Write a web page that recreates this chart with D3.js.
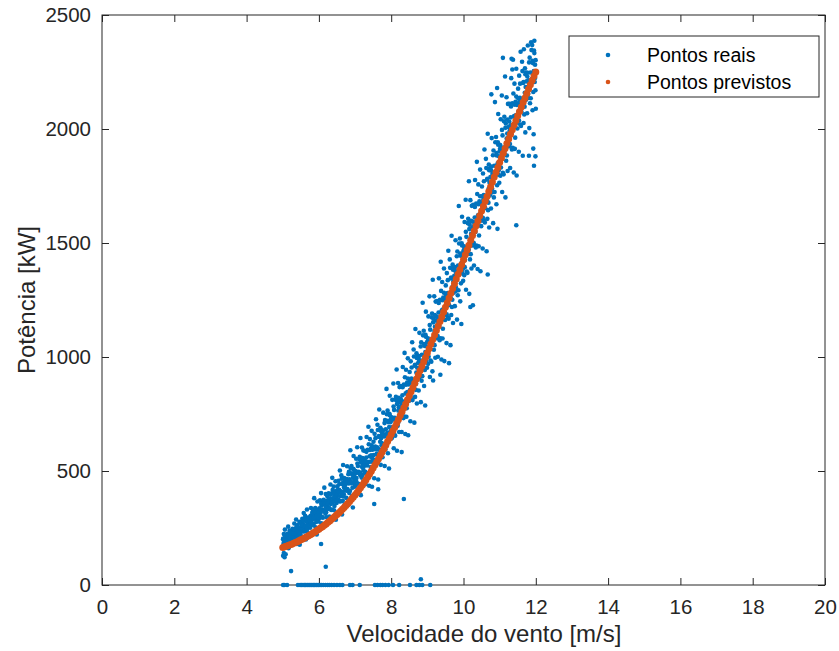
<!DOCTYPE html>
<html>
<head>
<meta charset="utf-8">
<script src="https://cdn.jsdelivr.net/npm/d3@7"></script>
<style>
  body { margin: 0; background: #fff; }
  svg { display: block; font-family: "Liberation Sans", Arial, sans-serif; }
</style>
</head>
<body>
<div id="chart"></div>
<script>
// measured points [wind speed m/s, power kW]
const realPoints = [
  [5.01,201],[5.02,180],[5.03,224],[5.04,192],[5.06,243],[5.07,166],[5.08,211],[5.10,201],[5.11,180],[5.12,221],
  [5.14,195],[5.15,256],[5.16,161],[5.17,219],[5.19,239],[5.20,193],[5.21,211],[5.22,181],[5.23,234],[5.24,206],
  [5.01,128],[5.03,140],[5.05,122],[5.08,135],
  [5.26,207],[5.27,247],[5.28,221],[5.29,186],[5.31,233],[5.32,270],[5.33,218],[5.35,246],[5.36,204],[5.37,287],
  [5.39,180],[5.40,233],[5.41,263],[5.42,203],[5.44,246],[5.45,231],[5.46,277],[5.47,177],[5.48,243],[5.49,221],
  [5.51,276],[5.52,251],[5.53,207],[5.54,290],[5.56,266],[5.57,236],[5.58,316],[5.60,250],[5.61,262],[5.62,304],
  [5.64,200],[5.65,280],[5.66,236],[5.67,331],[5.69,254],[5.70,296],[5.71,226],[5.72,276],[5.73,292],[5.74,266],
  [5.76,251],[5.77,303],[5.78,338],[5.79,275],[5.81,290],[5.82,231],[5.83,322],[5.85,303],[5.86,270],[5.87,381],
  [5.89,294],[5.90,337],[5.91,253],[5.92,314],[5.94,222],[5.95,330],[5.96,366],[5.97,290],[5.98,312],[5.99,279],
  [6.01,331],[6.02,294],[6.03,371],[6.04,315],[6.06,403],[6.07,271],[6.08,349],[6.10,331],[6.11,295],[6.12,367],
  [6.14,323],[6.15,427],[6.16,262],[6.17,363],[6.19,399],[6.20,319],[6.21,349],[6.22,297],[6.23,390],[6.24,343],
  [6.26,334],[6.27,402],[6.28,359],[6.29,300],[6.31,380],[6.32,441],[6.33,355],[6.35,401],[6.36,331],[6.37,470],
  [6.39,291],[6.40,381],[6.41,432],[6.42,328],[6.44,403],[6.45,376],[6.46,455],[6.47,286],[6.48,397],[6.49,360],
  [6.51,433],[6.52,391],[6.53,318],[6.54,457],[6.56,417],[6.57,368],[6.58,502],[6.60,390],[6.61,411],[6.62,481],
  [6.64,309],[6.65,442],[6.66,369],[6.67,526],[6.69,398],[6.70,469],[6.71,352],[6.72,435],[6.73,461],[6.74,420],
  [6.76,382],[6.77,465],[6.78,521],[6.79,421],[6.81,445],[6.82,352],[6.83,496],[6.85,464],[6.86,413],[6.87,591],
  [6.89,452],[6.90,522],[6.91,389],[6.92,485],[6.94,340],[6.95,510],[6.96,566],[6.97,447],[6.98,483],[6.99,431],
  [7.01,492],[7.02,436],[7.03,554],[7.04,469],[7.06,604],[7.07,403],[7.08,522],[7.10,496],[7.11,441],[7.12,552],
  [7.14,483],[7.15,645],[7.16,394],[7.17,548],[7.19,603],[7.20,482],[7.21,527],[7.22,450],[7.23,590],[7.24,520],
  [7.26,490],[7.27,589],[7.28,527],[7.29,442],[7.31,559],[7.32,649],[7.33,524],[7.35,593],[7.36,491],[7.37,694],
  [7.39,435],[7.40,565],[7.41,640],[7.42,490],[7.44,599],[7.45,562],[7.46,676],[7.47,431],[7.48,593],[7.49,540],
  [7.51,628],[7.52,570],[7.53,468],[7.54,663],[7.56,607],[7.57,540],[7.58,727],[7.60,575],[7.61,604],[7.62,703],
  [7.64,463],[7.65,650],[7.66,548],[7.67,770],[7.69,592],[7.70,690],[7.71,527],[7.72,644],[7.73,682],[7.74,623],
  [7.53,355],[7.64,420],
  [7.76,560],[7.77,677],[7.78,756],[7.79,617],[7.81,651],[7.82,522],[7.83,724],[7.85,683],[7.86,610],[7.87,860],
  [7.89,667],[7.90,765],[7.91,578],[7.92,714],[7.94,511],[7.95,751],[7.96,830],[7.97,663],[7.98,714],[7.99,641],
  [8.01,724],[8.02,645],[8.03,812],[8.04,693],[8.06,884],[8.07,600],[8.08,768],[8.10,733],[8.11,655],[8.12,812],
  [8.14,716],[8.15,945],[8.16,589],[8.17,807],[8.19,886],[8.20,715],[8.21,780],[8.22,671],[8.23,868],[8.24,770],
  [8.26,738],[8.27,873],[8.28,788],[8.29,671],[8.31,832],[8.32,956],[8.33,784],[8.35,879],[8.36,739],[8.37,1018],
  [8.39,662],[8.40,841],[8.41,944],[8.42,738],[8.44,888],[8.45,837],[8.46,994],[8.47,657],[8.48,880],[8.49,807],
  [8.29,583],[8.35,377],
  [8.51,934],[8.52,855],[8.53,718],[8.54,981],[8.56,906],[8.57,815],[8.58,1065],[8.60,862],[8.61,900],[8.62,1033],
  [8.64,712],[8.65,962],[8.66,825],[8.67,1123],[8.69,883],[8.70,1016],[8.71,796],[8.72,953],[8.73,1004],[8.74,924],
  [8.76,853],[8.77,1004],[8.78,1106],[8.79,925],[8.81,970],[8.82,802],[8.83,1064],[8.85,1010],[8.86,916],[8.87,1238],
  [8.89,989],[8.90,1115],[8.91,873],[8.92,1049],[8.94,787],[8.95,1097],[8.96,1199],[8.97,982],[8.98,1047],[8.99,953],
  [9.01,1068],[9.02,970],[9.03,1178],[9.04,1028],[9.06,1266],[9.07,912],[9.08,1120],[9.10,1077],[9.11,979],[9.12,1174],
  [9.14,1055],[9.15,1339],[9.16,897],[9.17,1169],[9.19,1266],[9.20,1052],[9.21,1133],[9.22,997],[9.23,1243],[9.24,1119],
  [9.14,937],[9.36,922],
  [9.26,1082],[9.27,1245],[9.28,1143],[9.29,1001],[9.31,1195],[9.32,1345],[9.33,1137],[9.35,1251],[9.36,1082],[9.37,1418],
  [9.39,989],[9.40,1205],[9.41,1329],[9.42,1081],[9.44,1261],[9.45,1199],[9.46,1388],[9.47,982],[9.48,1251],[9.49,1162],
  [9.51,1314],[9.52,1221],[9.53,1061],[9.54,1368],[9.56,1280],[9.57,1174],[9.58,1466],[9.60,1228],[9.61,1273],[9.62,1428],
  [9.64,1052],[9.65,1345],[9.66,1184],[9.67,1532],[9.69,1251],[9.70,1406],[9.71,1149],[9.72,1332],[9.73,1392],[9.74,1300],
  [9.60,973],
  [9.76,1223],[9.77,1395],[9.78,1512],[9.79,1306],[9.81,1356],[9.82,1164],[9.83,1463],[9.85,1401],[9.86,1293],[9.87,1662],
  [9.89,1376],[9.90,1520],[9.91,1244],[9.92,1444],[9.94,1145],[9.95,1499],[9.96,1615],[9.97,1368],[9.98,1442],[9.99,1334],
  [10.01,1469],[10.02,1359],[10.03,1592],[10.04,1425],[10.06,1690],[10.07,1295],[10.08,1527],[10.10,1479],[10.11,1369],[10.12,1587],
  [10.14,1453],[10.15,1771],[10.16,1277],[10.17,1580],[10.19,1688],[10.20,1451],[10.21,1540],[10.22,1388],[10.23,1663],[10.24,1525],
  [10.19,1219],[10.26,1227],
  [10.26,1489],[10.27,1668],[10.28,1556],[10.29,1401],[10.31,1612],[10.32,1776],[10.33,1548],[10.35,1673],[10.36,1489],[10.37,1856],
  [10.39,1386],[10.40,1622],[10.41,1757],[10.42,1486],[10.44,1683],[10.45,1615],[10.46,1822],[10.47,1376],[10.48,1671],[10.49,1574],
  [10.51,1748],[10.52,1649],[10.53,1476],[10.54,1805],[10.56,1710],[10.57,1597],[10.58,1910],[10.60,1654],[10.61,1702],[10.62,1869],
  [10.64,1464],[10.65,1778],[10.66,1606],[10.67,1979],[10.69,1677],[10.70,1844],[10.71,1568],[10.72,1764],[10.73,1828],[10.74,1728],
  [10.67,1362],
  [10.76,1651],[10.77,1835],[10.78,1960],[10.79,1739],[10.81,1792],[10.82,1587],[10.83,1906],[10.85,1839],[10.86,1724],[10.87,2118],
  [10.89,1811],[10.90,1965],[10.91,1670],[10.92,1884],[10.94,1562],[10.95,1942],[10.96,2066],[10.97,1800],[10.98,1880],[10.99,1764],
  [10.77,2152],[10.93,2180],
  [11.01,1913],[11.02,1795],[11.03,2043],[11.04,1864],[11.06,2147],[11.07,1724],[11.08,1972],[11.10,1919],[11.11,1801],[11.12,2034],
  [11.14,1890],[11.15,2230],[11.16,1700],[11.17,2024],[11.19,2139],[11.20,1884],[11.21,1980],[11.22,1816],[11.23,2110],[11.24,1962],
  [11.09,2312],[11.33,2308],[11.35,2261],
  [11.26,1924],[11.27,2111],[11.28,1993],[11.29,1829],[11.31,2051],[11.32,2223],[11.33,1983],[11.35,2113],[11.36,1918],[11.37,2304],
  [11.39,1809],[11.40,2057],[11.41,2199],[11.42,1913],[11.44,2119],[11.45,2047],[11.46,2264],[11.47,1796],[11.48,2105],[11.49,2002],
  [11.46,1578],
  [11.51,2177],[11.52,2076],[11.53,1900],[11.54,2234],[11.56,2137],[11.57,2020],[11.58,2339],[11.60,2077],[11.61,2126],[11.62,2295],
  [11.64,1883],[11.65,2202],[11.66,2026],[11.67,2350],[11.69,2098],[11.70,2266],[11.71,1985],[11.72,2184],[11.73,2248],[11.74,2147],
  [11.76,2069],[11.77,2247],[11.78,2366],[11.79,2153],[11.81,2204],[11.82,2004],[11.83,2313],[11.85,2248],[11.86,2135],[11.87,2380],
  [11.89,2219],[11.90,2368],[11.91,2082],[11.92,2289],[11.94,1977],[11.95,2344],[11.96,2387],[11.97,2206],[11.98,2282],[11.99,2170],
  [11.81,1883],[11.95,1839],[11.99,1880],[12.00,2089],[11.93,1914],
  [5.23,61],[6.19,80],[6.06,180],[8.82,25]
];

// the denser core of the measured cloud, close to the fitted curve
const moreRealPoints = [
  [5.015,204],[5.035,186],[5.050,201],[5.065,215],[5.090,181],[5.105,198],[5.130,225],[5.145,198],[5.160,216],[5.180,189],[5.195,207],[5.210,222],[5.230,201],[5.245,215],
  [5.265,230],[5.285,209],[5.300,226],[5.315,243],[5.340,203],[5.355,224],[5.380,255],[5.395,223],[5.410,244],[5.430,213],[5.445,234],[5.460,251],[5.480,226],[5.495,244],
  [5.515,265],[5.535,241],[5.550,261],[5.565,281],[5.590,235],[5.605,258],[5.630,294],[5.645,258],[5.660,281],[5.680,246],[5.695,269],[5.710,290],[5.730,261],[5.745,281],
  [5.765,299],[5.785,271],[5.800,293],[5.815,316],[5.840,263],[5.855,291],[5.880,332],[5.895,291],[5.910,318],[5.930,277],[5.945,304],[5.960,327],[5.980,295],[5.995,318],
  [6.015,336],[6.035,305],[6.050,331],[6.065,356],[6.090,298],[6.105,328],[6.130,374],[6.145,328],[6.160,358],[6.180,313],[6.195,343],[6.210,369],[6.230,334],[6.245,359],
  [6.265,374],[6.285,338],[6.300,367],[6.315,397],[6.340,329],[6.355,364],[6.380,417],[6.395,364],[6.410,399],[6.430,347],[6.445,382],[6.460,411],[6.480,370],[6.495,399],
  [6.515,416],[6.535,375],[6.550,409],[6.565,443],[6.590,366],[6.605,406],[6.630,466],[6.645,407],[6.660,447],[6.680,388],[6.695,428],[6.710,461],[6.730,415],[6.745,449],
  [6.765,457],[6.785,413],[6.800,450],[6.815,486],[6.840,404],[6.855,446],[6.880,512],[6.895,447],[6.910,490],[6.930,427],[6.945,470],[6.960,507],[6.980,456],[6.995,493],
  [7.015,500],[7.035,454],[7.050,493],[7.065,533],[7.090,444],[7.105,491],[7.130,562],[7.145,492],[7.160,539],[7.180,471],[7.195,518],[7.210,557],[7.230,504],[7.245,543],
  [7.265,548],[7.285,497],[7.300,541],[7.315,584],[7.340,487],[7.355,538],[7.380,617],[7.395,540],[7.410,592],[7.430,517],[7.445,569],[7.460,613],[7.480,554],[7.495,597],
  [7.515,603],[7.535,548],[7.550,596],[7.565,644],[7.590,537],[7.605,594],[7.630,680],[7.645,596],[7.660,653],[7.680,571],[7.695,628],[7.710,676],[7.730,612],[7.745,660],
  [7.765,666],[7.785,606],[7.800,658],[7.815,710],[7.840,594],[7.855,656],[7.880,749],[7.895,659],[7.910,720],[7.930,631],[7.945,693],[7.960,745],[7.980,675],[7.995,728],
  [8.015,736],[8.035,671],[8.050,727],[8.065,783],[8.090,658],[8.105,725],[8.130,825],[8.145,728],[8.160,794],[8.180,698],[8.195,765],[8.210,821],[8.230,745],[8.245,802],
  [8.265,816],[8.285,746],[8.300,806],[8.315,867],[8.340,732],[8.355,804],[8.380,911],[8.395,806],[8.410,878],[8.430,775],[8.445,846],[8.460,906],[8.480,825],[8.495,885],
  [8.515,901],[8.535,826],[8.550,890],[8.565,954],[8.590,811],[8.605,887],[8.630,1002],[8.645,890],[8.660,966],[8.680,856],[8.695,932],[8.710,996],[8.730,910],[8.745,974],
  [8.765,990],[8.785,911],[8.800,978],[8.815,1046],[8.840,896],[8.855,975],[8.880,1095],[8.895,978],[8.910,1057],[8.930,943],[8.945,1022],[8.960,1089],[8.980,998],[8.995,1066],
  [9.015,1082],[9.035,1001],[9.050,1071],[9.065,1140],[9.090,984],[9.105,1066],[9.130,1191],[9.145,1069],[9.160,1152],[9.180,1032],[9.195,1114],[9.210,1184],[9.230,1090],[9.245,1160],
  [9.265,1177],[9.285,1092],[9.300,1164],[9.315,1237],[9.340,1074],[9.355,1160],[9.380,1290],[9.395,1163],[9.410,1249],[9.430,1124],[9.445,1210],[9.460,1282],[9.480,1184],[9.495,1256],
  [9.515,1274],[9.535,1187],[9.550,1262],[9.565,1337],[9.590,1168],[9.605,1257],[9.630,1391],[9.645,1260],[9.660,1349],[9.680,1219],[9.695,1308],[9.710,1383],[9.730,1282],[9.745,1356],
  [9.765,1379],[9.785,1290],[9.800,1366],[9.815,1442],[9.840,1271],[9.855,1361],[9.880,1498],[9.895,1364],[9.910,1454],[9.930,1323],[9.945,1413],[9.960,1489],[9.980,1386],[9.995,1462],
  [10.015,1485],[10.035,1394],[10.050,1471],[10.065,1549],[10.090,1375],[10.105,1467],[10.130,1606],[10.145,1470],[10.160,1561],[10.180,1428],[10.195,1519],[10.210,1597],[10.230,1491],[10.245,1569],
  [10.265,1593],[10.285,1500],[10.300,1579],[10.315,1658],[10.340,1480],[10.355,1573],[10.380,1715],[10.395,1576],[10.410,1670],[10.430,1533],[10.445,1626],[10.460,1705],[10.480,1598],[10.495,1677],
  [10.515,1705],[10.535,1611],[10.550,1691],[10.565,1771],[10.590,1590],[10.605,1685],[10.630,1829],[10.645,1688],[10.660,1782],[10.680,1644],[10.695,1738],[10.710,1819],[10.730,1709],[10.745,1789],
  [10.765,1818],[10.785,1722],[10.800,1803],[10.815,1885],[10.840,1700],[10.855,1797],[10.880,1942],[10.895,1798],[10.910,1895],[10.930,1753],[10.945,1850],[10.960,1931],[10.980,1820],[10.995,1901],
  [11.015,1930],[11.035,1831],[11.050,1914],[11.065,1996],[11.090,1808],[11.105,1906],[11.130,2054],[11.145,1907],[11.160,2005],[11.180,1861],[11.195,1958],[11.210,2041],[11.230,1927],[11.245,2009],
  [11.265,2033],[11.285,1934],[11.300,2016],[11.315,2099],[11.340,1910],[11.355,2008],[11.380,2156],[11.395,2009],[11.410,2107],[11.430,1962],[11.445,2060],[11.460,2142],[11.480,2028],[11.495,2111],
  [11.515,2134],[11.535,2037],[11.550,2118],[11.565,2199],[11.590,2013],[11.605,2109],[11.630,2254],[11.645,2110],[11.660,2206],[11.680,2064],[11.695,2159],[11.710,2240],[11.730,2128],[11.745,2209],
  [11.765,2230],[11.785,2136],[11.800,2214],[11.815,2292],[11.840,2113],[11.855,2206],[11.880,2346],[11.895,2207],[11.910,2299],[11.930,2162],[11.945,2254],[11.960,2333],[11.980,2224],[11.995,2302]
];

// measured points where the turbine gave zero power
const zeroPowerSpeeds = [
  5.01, 5.04, 5.12, 5.42, 5.48, 5.52, 5.56, 5.60, 5.63, 5.67, 5.70, 5.74, 5.78, 5.81, 5.85, 5.88,
  5.92, 5.95, 5.99, 6.03, 6.07, 6.12, 6.18, 6.24, 6.29, 6.35, 6.42, 6.50, 6.58, 6.65, 6.86, 6.93,
  7.13, 7.55, 7.62, 7.70, 7.76, 7.84, 7.93, 8.05, 8.22, 8.52, 8.70, 8.78, 8.86, 9.08
];

// model prediction [wind speed m/s, power kW]
const predPoints = [
  [5.00,165],[5.05,168],[5.10,170],[5.15,173],[5.20,176],[5.25,179],[5.30,183],[5.35,186],[5.40,190],[5.45,194],
  [5.50,198],[5.55,202],[5.60,206],[5.65,210],[5.70,215],[5.75,219],[5.80,224],[5.85,229],[5.90,234],[5.95,240],
  [6.00,245],[6.05,251],[6.10,256],[6.15,262],[6.20,268],[6.25,275],[6.30,281],[6.35,288],[6.40,295],[6.45,302],
  [6.50,309],[6.55,316],[6.60,324],[6.65,332],[6.70,340],[6.75,349],[6.80,357],[6.85,366],[6.90,376],[6.95,385],
  [7.00,395],[7.05,405],[7.10,416],[7.15,427],[7.20,438],[7.25,450],[7.30,461],[7.35,474],[7.40,486],[7.45,499],
  [7.50,513],[7.55,526],[7.60,540],[7.65,554],[7.70,569],[7.75,583],[7.80,598],[7.85,613],[7.90,629],[7.95,644],
  [8.00,660],[8.05,676],[8.10,692],[8.15,709],[8.20,726],[8.25,743],[8.30,760],[8.35,777],[8.40,794],[8.45,812],
  [8.50,830],[8.55,848],[8.60,866],[8.65,885],[8.70,903],[8.75,922],[8.80,941],[8.85,960],[8.90,979],[8.95,998],
  [9.00,1018],[9.05,1037],[9.10,1057],[9.15,1077],[9.20,1096],[9.25,1116],[9.30,1136],[9.35,1156],[9.40,1177],[9.45,1197],
  [9.50,1218],[9.55,1238],[9.60,1259],[9.65,1280],[9.70,1300],[9.75,1321],[9.80,1342],[9.85,1363],[9.90,1384],[9.95,1405],
  [10.00,1426],[10.05,1448],[10.10,1469],[10.15,1490],[10.20,1512],[10.25,1533],[10.30,1554],[10.35,1576],[10.40,1597],[10.45,1619],
  [10.50,1640],[10.55,1661],[10.60,1683],[10.65,1704],[10.70,1726],[10.75,1747],[10.80,1768],[10.85,1789],[10.90,1810],[10.95,1831],
  [11.00,1853],[11.05,1873],[11.10,1894],[11.15,1915],[11.20,1936],[11.25,1956],[11.30,1977],[11.35,1997],[11.40,2017],[11.45,2037],
  [11.50,2058],[11.55,2077],[11.60,2097],[11.65,2117],[11.70,2136],[11.75,2156],[11.80,2175],[11.85,2194],[11.90,2213],[11.95,2232],
  [12.00,2250]
];

const xTicks = [0, 2, 4, 6, 8, 10, 12, 14, 16, 18, 20];
const yTicks = [0, 500, 1000, 1500, 2000, 2500];
const legendLabels = ["Pontos reais", "Pontos previstos"];

const width = 839, height = 651;
const margin = { top: 15, right: 14, bottom: 66, left: 102 };
const blue = "#0072BD", orange = "#D95319", axisColor = "#262626";

const svg = d3.select("#chart").append("svg")
  .attr("width", width).attr("height", height);

const x = d3.scaleLinear().domain([0, 20]).range([margin.left, width - margin.right]);
const y = d3.scaleLinear().domain([0, 2500]).range([height - margin.bottom, margin.top]);

// axes, MATLAB style: box with inward ticks on every side
const tick = 7;
svg.append("g")
  .attr("transform", `translate(0,${y(0)})`)
  .call(d3.axisBottom(x).tickValues(xTicks).tickSize(-tick).tickPadding(14).tickFormat(d3.format("d")));
svg.append("g")
  .attr("transform", `translate(0,${y(2500)})`)
  .call(d3.axisTop(x).tickValues(xTicks).tickSize(-tick).tickFormat(""));
svg.append("g")
  .attr("transform", `translate(${x(0)},0)`)
  .call(d3.axisLeft(y).tickValues(yTicks).tickSize(-tick).tickPadding(11).tickFormat(d3.format("d")));
svg.append("g")
  .attr("transform", `translate(${x(20)},0)`)
  .call(d3.axisRight(y).tickValues(yTicks).tickSize(-tick).tickFormat(""));

svg.selectAll(".domain").remove();
svg.selectAll(".tick line").attr("stroke", axisColor).attr("stroke-width", 1);
svg.selectAll(".tick text")
  .attr("fill", axisColor)
  .attr("font-size", 20.5)
  .attr("font-family", "Liberation Sans, Arial, sans-serif");

svg.append("rect")
  .attr("x", x(0)).attr("y", y(2500))
  .attr("width", x(20) - x(0)).attr("height", y(0) - y(2500))
  .attr("fill", "none").attr("stroke", axisColor).attr("stroke-width", 1);

// axis labels
svg.append("text")
  .attr("x", 484).attr("y", 642)
  .attr("text-anchor", "middle").attr("font-size", 24).attr("fill", axisColor)
  .text("Velocidade do vento [m/s]");
svg.append("text")
  .attr("transform", `translate(35,${(y(0) + y(2500)) / 2}) rotate(-90)`)
  .attr("text-anchor", "middle").attr("font-size", 24).attr("fill", axisColor)
  .text("Potência [kW]");

// points
const allReal = realPoints
  .concat(moreRealPoints)
  .concat(zeroPowerSpeeds.map((s) => [s, 0]));
svg.append("g").attr("id", "real-g")
  .selectAll("circle").data(allReal).join("circle")
  .attr("cx", (d) => x(d[0])).attr("cy", (d) => y(d[1]))
  .attr("r", 2.3).attr("fill", blue);

svg.append("g").attr("id", "pred-g")
  .selectAll("circle").data(predPoints).join("circle")
  .attr("cx", (d) => x(d[0])).attr("cy", (d) => y(d[1]))
  .attr("r", 3.5).attr("fill", orange);

// legend
const legendG = svg.append("g").attr("transform", "translate(569,36)");
legendG.append("rect")
  .attr("width", 250).attr("height", 61)
  .attr("fill", "#fff").attr("stroke", axisColor).attr("stroke-width", 1);
const legendItem = legendG.selectAll("g").data(legendLabels).join("g")
  .attr("transform", (d, i) => `translate(0,${19 + i * 27})`);
legendItem.append("circle")
  .attr("cx", 39).attr("r", 2.3)
  .attr("fill", (d, i) => (i === 0 ? blue : orange));
legendItem.append("text")
  .attr("x", 78).attr("dy", "0.35em")
  .attr("font-size", 19.5).attr("fill", "#000")
  .text((d) => d);
</script>
</body>
</html>
